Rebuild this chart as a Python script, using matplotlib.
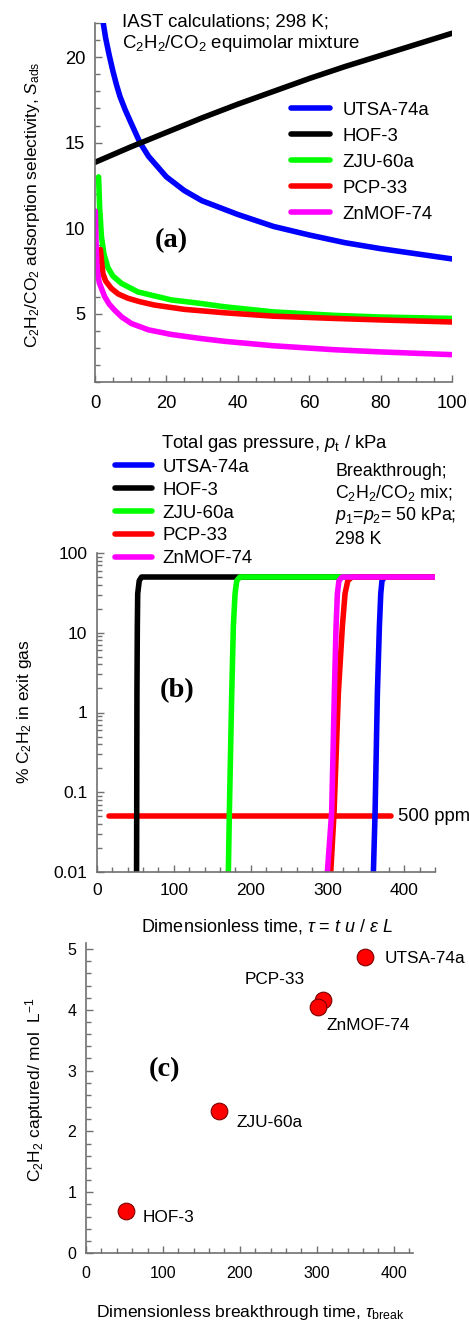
import numpy as np
import matplotlib
matplotlib.use("Agg")
import matplotlib.pyplot as plt
from matplotlib.ticker import MultipleLocator, LogLocator, NullFormatter

plt.rcParams['font.family'] = ['Liberation Sans', 'DejaVu Sans']
plt.rcParams['mathtext.fontset'] = 'custom'
plt.rcParams['mathtext.rm'] = 'Liberation Sans'
plt.rcParams['mathtext.it'] = 'Liberation Sans:italic'
plt.rcParams['mathtext.bf'] = 'Liberation Sans:bold'

W, H = 469, 1324

materials = ["UTSA-74a", "HOF-3", "ZJU-60a", "PCP-33", "ZnMOF-74"]
colors = ["#0000ff", "#000000", "#00ff00", "#ff0000", "#ff00ff"]

# (a) IAST selectivity vs total pressure (kPa)
p_utsa = [2.3, 3, 4, 5, 6, 7, 8.5, 10, 12.6, 15, 17.5, 20, 25, 30, 40, 50, 60, 70, 80, 90, 100]
s_utsa = [22.0, 21.1, 20.1, 19.2, 18.4, 17.7, 16.9, 16.2, 15.0, 14.2, 13.6, 13.0, 12.2, 11.6, 10.8,
          10.1, 9.6, 9.15, 8.8, 8.5, 8.2]
p_hof = [0, 10, 20, 30, 40, 50, 60, 70, 80, 90, 100]
s_hof = [13.85, 14.75, 15.6, 16.45, 17.25, 18.0, 18.75, 19.45, 20.1, 20.75, 21.4]
p_zju = [1.0, 1.3, 1.8, 2.5, 3.6, 5, 7.4, 12, 21.4, 29.4, 36.3, 50, 66.8, 80, 100]
s_zju = [13.0, 11.2, 9.5, 8.5, 7.7, 7.2, 6.77, 6.27, 5.8, 5.6, 5.4, 5.1, 4.9, 4.8, 4.72]
p_pcp = [1.5, 2.2, 3, 4.6, 6.5, 9.2, 12.5, 16.7, 25, 36.3, 50, 66.8, 80, 100]
s_pcp = [8.75, 7.35, 6.9, 6.47, 6.15, 5.9, 5.7, 5.5, 5.25, 5.05, 4.85, 4.72, 4.63, 4.51]
p_zn = [0.1, 0.3, 0.6, 1.2, 2.7, 4, 5.5, 7.5, 10.2, 15, 21.4, 29.4, 36.3, 50, 66.8, 80, 100]
s_zn = [11.0, 9.0, 7.6, 6.8, 6.0, 5.55, 5.2, 4.8, 4.42, 4.05, 3.78, 3.55, 3.38, 3.12, 2.89, 2.76, 2.6]

# (b) breakthrough, % C2H2 in exit gas vs dimensionless time
c_btc = [0.01, 0.056, 1.76, 12, 31, 45, 50, 50]
t_utsa = [359.8, 362, 365, 367.6, 369.4, 371, 374.5, 442]
t_hof = [51.5, 51.7, 52, 52.5, 53, 55, 58, 442]
t_zju = [171, 172.3, 175.4, 177.5, 179.7, 182, 186, 442]
t_pcp = [304.3, 308.6, 314.2, 319.4, 322.9, 326.5, 332, 442]
t_zn = [299.9, 305.5, 309, 311.2, 312.9, 315, 319, 442]
ppm_level = 0.05
ppm_span = [15, 383]

# (c) captured amount vs breakthrough time
tau_break = [362, 52, 173, 308, 302]
captured = [4.87, 0.69, 2.33, 4.17, 4.05]

fig = plt.figure(figsize=(W / 100, H / 100), dpi=100)


def add_ax(left, top, right, bottom):
    return fig.add_axes([left / W, 1 - bottom / H, (right - left) / W, (bottom - top) / H])


def style(ax, size):
    for s in ["top", "right"]:
        ax.spines[s].set_visible(False)
    for s in ["left", "bottom"]:
        ax.spines[s].set_color("#707070")
        ax.spines[s].set_linewidth(1.2)
    ax.tick_params(which="both", direction="in", color="#707070", labelsize=size)
    ax.tick_params(which="major", length=5, width=1)
    ax.tick_params(which="minor", length=3.5, width=1)


def ftext(x, y, s, **kw):
    fig.text(x / W, 1 - y / H, s, **kw)


def panel_tag(ax, x, y, s):
    ax.text(x, y, s, transform=ax.transAxes, fontsize=20.5, fontweight="bold",
            family="Liberation Serif", ha="center", va="center")


# ---------- panel (a)
ax_a = add_ax(95, 23, 452, 382)
style(ax_a, 13.2)
series_a = [(p_utsa, s_utsa), (p_hof, s_hof), (p_zju, s_zju), (p_pcp, s_pcp), (p_zn, s_zn)]
for (p, s), name, col in zip(series_a, materials, colors):
    ax_a.plot(p, s, color=col, lw=4, label=name, solid_capstyle="round")
ax_a.set_xlim(0, 100)
ax_a.set_ylim(1, 22)
ax_a.xaxis.set_major_locator(MultipleLocator(20))
ax_a.xaxis.set_minor_locator(MultipleLocator(5))
ax_a.yaxis.set_major_locator(MultipleLocator(5))
ax_a.yaxis.set_minor_locator(MultipleLocator(1))
ax_a.tick_params(axis="x", pad=9)
ax_a.tick_params(axis="y", pad=7)
ax_a.legend(loc="upper left", bbox_to_anchor=(0.549, 0.78), borderpad=0, borderaxespad=0,
            handlelength=2.1, handletextpad=0.65, labelspacing=0.48, frameon=False, fontsize=13.4)
panel_tag(ax_a, 0.215, 0.395, "(a)")
ftext(122, 22, "IAST calculations; 298 K;", fontsize=13.4, va="center")
ftext(122, 44, r"C$_2$H$_2$/CO$_2$ equimolar mixture", fontsize=13.4, va="center")
ftext(33, 205, r"C$_2$H$_2$/CO$_2$ adsorption selectivity, $S_{\rm ads}$", fontsize=12.5,
      rotation=90, ha="center", va="center")
ftext(275, 443, r"Total gas pressure, $p_{\rm t}$ / kPa", fontsize=13.3, ha="center", va="center")

# ---------- panel (b)
ax_b = add_ax(97, 553, 435, 872)
style(ax_b, 12.5)
ax_b.plot(ppm_span, [ppm_level, ppm_level], color="#ff0000", lw=4, solid_capstyle="round")
series_b = [t_utsa, t_hof, t_zju, t_pcp, t_zn]
for t, name, col in zip(series_b, materials, colors):
    ax_b.plot(t, c_btc, color=col, lw=4, label=name, solid_capstyle="round")
ax_b.set_yscale("log")
ax_b.set_xlim(0, 440)
ax_b.set_ylim(0.01, 100)
ax_b.set_yticks([0.01, 0.1, 1, 10, 100])
ax_b.set_yticklabels(["0.01", "0.1", "1", "10", "100"])
ax_b.yaxis.set_minor_locator(LogLocator(base=10, subs=np.arange(2, 10)))
ax_b.yaxis.set_minor_formatter(NullFormatter())
ax_b.xaxis.set_major_locator(MultipleLocator(100))
ax_b.xaxis.set_minor_locator(MultipleLocator(20))
ax_b.tick_params(axis="x", pad=8)
ax_b.tick_params(axis="y", pad=7)
ax_b.text(392, ppm_level, "500 ppm", fontsize=13.3, ha="left", va="center", clip_on=False)
ax_b.legend(loc="upper left", bbox_to_anchor=(0.053, 1.295), borderpad=0, borderaxespad=0,
            handlelength=2.0, handletextpad=0.55, labelspacing=0.31, frameon=False, fontsize=13.4)
panel_tag(ax_b, 0.237, 0.57, "(b)")
ftext(335, 472, "Breakthrough;", fontsize=12.8, va="center")
ftext(335, 493, r"C$_2$H$_2$/CO$_2$ mix;", fontsize=12.8, va="center")
ftext(335, 516, r"$p_1$=$p_2$= 50 kPa;", fontsize=12.8, va="center")
ftext(335, 539, "298 K", fontsize=12.8, va="center")
ftext(25, 712, r"% C$_2$H$_2$ in exit gas", fontsize=12.5, rotation=90, ha="center", va="center")
ftext(267, 927, r"Dimensionless time, $\tau$ = $t$ $u$ / $\varepsilon$ $L$", fontsize=13,
      ha="center", va="center")

# ---------- panel (c)
ax_c = add_ax(86, 943, 413, 1253)
style(ax_c, 11.5)
ax_c.scatter(tau_break, captured, s=144, color="#ff0000", edgecolor="#7a0000", lw=0.8, zorder=3)
ax_c.set_xlim(0, 425)
ax_c.set_ylim(0, 5.1)
ax_c.xaxis.set_major_locator(MultipleLocator(100))
ax_c.xaxis.set_minor_locator(MultipleLocator(20))
ax_c.yaxis.set_major_locator(MultipleLocator(1))
ax_c.yaxis.set_minor_locator(MultipleLocator(0.2))
ax_c.tick_params(axis="x", pad=9)
ax_c.tick_params(axis="y", pad=7)
label_pos = {"UTSA-74a": (388, 4.85), "HOF-3": (74, 0.59), "ZJU-60a": (196, 2.15),
             "PCP-33": (206, 4.5), "ZnMOF-74": (313, 3.74)}
for name in materials:
    x, y = label_pos[name]
    ax_c.text(x, y, name, fontsize=12.4, ha="left", va="center", clip_on=False)
panel_tag(ax_c, 0.24, 0.59, "(c)")
ftext(35, 1090, r"C$_2$H$_2$ captured/ mol  L$^{-1}$", fontsize=12.5, rotation=90,
      ha="center", va="center")
ftext(250, 1312, r"Dimensionless breakthrough time, $\tau_{\rm break}$", fontsize=12.6,
      ha="center", va="center")

fig.savefig("out.png", dpi=100)
